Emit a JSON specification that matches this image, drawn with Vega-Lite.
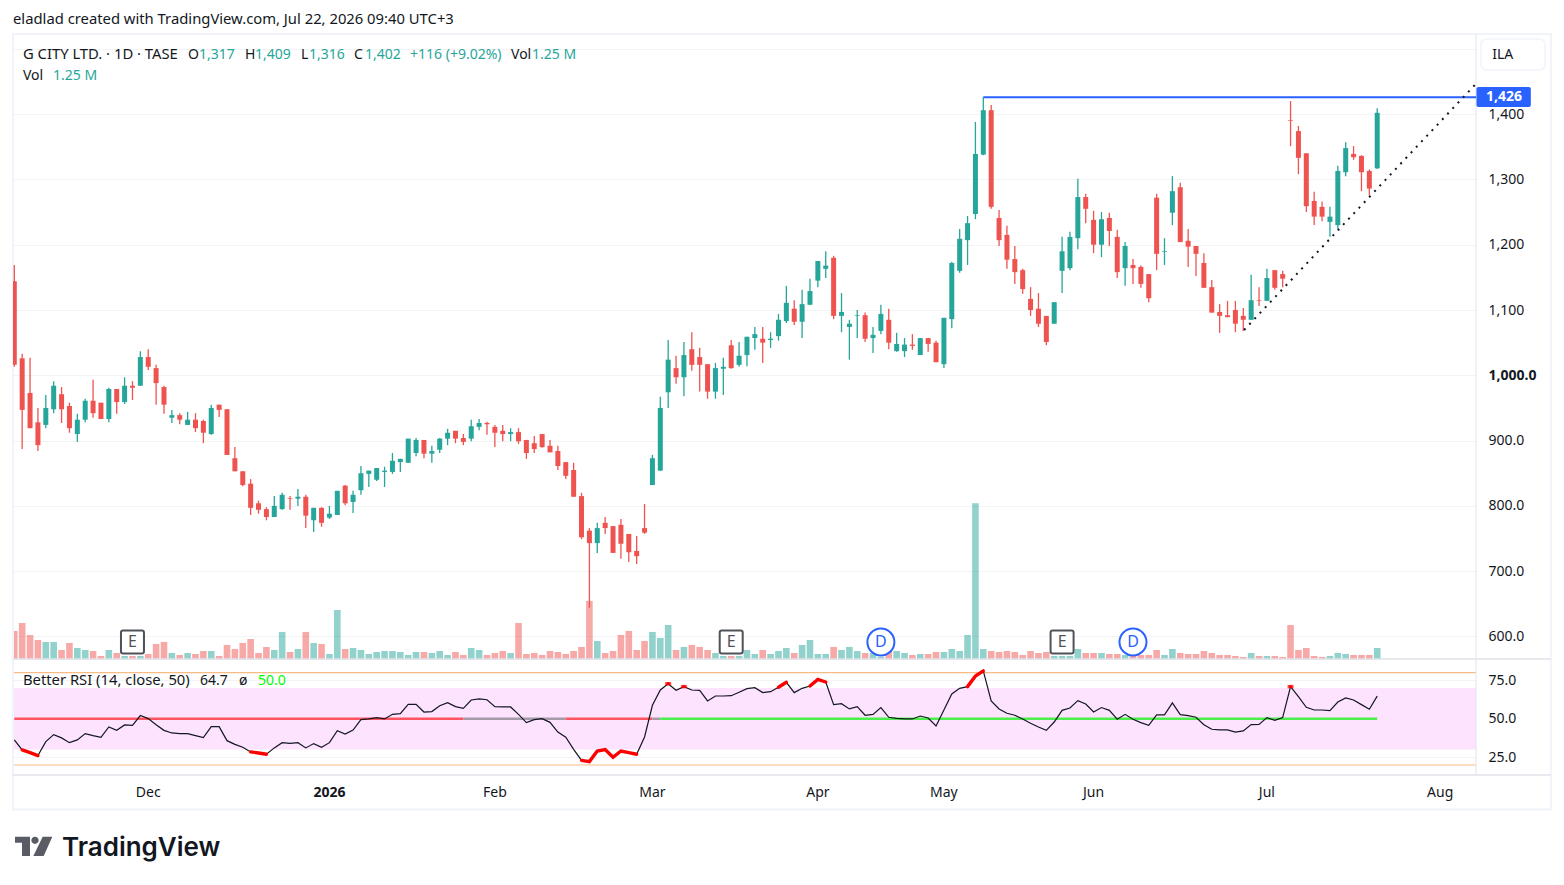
{
"$schema":"https://vega.github.io/schema/vega-lite/v6.json",
"width":1463,"height":741,
"autosize":{"type":"none"},
"padding":{"left":13,"top":34,"right":88,"bottom":110},
"background":"white",
"config":{"view":{"stroke":null},"font":"Noto Sans"},
"data":{"name":"bars"},
"datasets":{
"one":[{"row":1}],
"bars":[
{"bar":0,"open":1144,"high":1169,"low":1013,"close":1016,"vol":3.14,"rsi":36.3},
{"bar":1,"open":1026,"high":1033,"low":887,"close":947,"vol":4.02,"rsi":29.8,"hot":"a"},
{"bar":2,"open":973,"high":1027,"low":919,"close":919,"vol":2.69,"rsi":28.0,"hot":"a"},
{"bar":3,"open":928,"high":950,"low":884,"close":893,"vol":2.14,"rsi":26.1,"hot":"a"},
{"bar":4,"open":924,"high":970,"low":919,"close":950,"vol":1.92,"rsi":35.2},
{"bar":5,"open":948,"high":991,"low":942,"close":984,"vol":1.92,"rsi":39.7},
{"bar":6,"open":971,"high":982,"low":927,"close":948,"vol":1.03,"rsi":37.6},
{"bar":7,"open":953,"high":958,"low":912,"close":919,"vol":1.81,"rsi":34.5},
{"bar":8,"open":910,"high":941,"low":898,"close":932,"vol":1.25,"rsi":36.3},
{"bar":9,"open":932,"high":964,"low":928,"close":961,"vol":1.03,"rsi":40.4},
{"bar":10,"open":961,"high":993,"low":935,"close":942,"vol":0.92,"rsi":39.1},
{"bar":11,"open":958,"high":958,"low":933,"close":933,"vol":0.37,"rsi":38.0},
{"bar":12,"open":933,"high":981,"low":928,"close":979,"vol":1.03,"rsi":44.7},
{"bar":13,"open":979,"high":979,"low":941,"close":959,"vol":0.70,"rsi":42.5},
{"bar":14,"open":959,"high":997,"low":956,"close":984,"vol":0.37,"rsi":46.0},
{"bar":15,"open":984,"high":991,"low":962,"close":981,"vol":0.37,"rsi":45.8},
{"bar":16,"open":984,"high":1037,"low":984,"close":1028,"vol":0.37,"rsi":52.1},
{"bar":17,"open":1028,"high":1040,"low":1008,"close":1013,"vol":0.59,"rsi":50.1},
{"bar":18,"open":1011,"high":1016,"low":955,"close":988,"vol":1.70,"rsi":46.2},
{"bar":19,"open":982,"high":984,"low":941,"close":955,"vol":1.92,"rsi":42.5},
{"bar":20,"open":935,"high":947,"low":927,"close":939,"vol":0.70,"rsi":40.8},
{"bar":21,"open":939,"high":942,"low":925,"close":932,"vol":0.48,"rsi":40.4},
{"bar":22,"open":924,"high":944,"low":924,"close":932,"vol":0.70,"rsi":40.4},
{"bar":23,"open":932,"high":942,"low":913,"close":919,"vol":0.59,"rsi":39.1},
{"bar":24,"open":930,"high":932,"low":896,"close":912,"vol":0.92,"rsi":37.8},
{"bar":25,"open":910,"high":955,"low":909,"close":950,"vol":0.92,"rsi":44.9},
{"bar":26,"open":955,"high":955,"low":936,"close":947,"vol":0.37,"rsi":44.9},
{"bar":27,"open":948,"high":948,"low":878,"close":878,"vol":1.59,"rsi":35.8},
{"bar":28,"open":873,"high":890,"low":853,"close":853,"vol":1.14,"rsi":33.4},
{"bar":29,"open":853,"high":853,"low":830,"close":832,"vol":1.81,"rsi":31.5},
{"bar":30,"open":834,"high":841,"low":786,"close":797,"vol":2.25,"rsi":28.5,"hot":"b"},
{"bar":31,"open":804,"high":808,"low":788,"close":794,"vol":0.70,"rsi":27.8,"hot":"b"},
{"bar":32,"open":795,"high":798,"low":778,"close":783,"vol":1.37,"rsi":27.0,"hot":"b"},
{"bar":33,"open":783,"high":815,"low":783,"close":800,"vol":1.03,"rsi":31.1},
{"bar":34,"open":795,"high":820,"low":794,"close":817,"vol":3.03,"rsi":34.5},
{"bar":35,"open":812,"high":815,"low":794,"close":811,"vol":0.81,"rsi":34.1},
{"bar":36,"open":811,"high":826,"low":800,"close":814,"vol":1.14,"rsi":34.5},
{"bar":37,"open":814,"high":817,"low":766,"close":785,"vol":3.03,"rsi":31.1},
{"bar":38,"open":778,"high":797,"low":760,"close":797,"vol":1.81,"rsi":33.9},
{"bar":39,"open":797,"high":798,"low":768,"close":774,"vol":1.70,"rsi":31.5},
{"bar":40,"open":782,"high":800,"low":780,"close":788,"vol":0.59,"rsi":34.5},
{"bar":41,"open":786,"high":823,"low":786,"close":823,"vol":5.46,"rsi":42.3},
{"bar":42,"open":831,"high":832,"low":801,"close":804,"vol":1.14,"rsi":40.1},
{"bar":43,"open":806,"high":823,"low":789,"close":817,"vol":1.25,"rsi":42.7},
{"bar":44,"open":824,"high":861,"low":817,"close":850,"vol":1.03,"rsi":49.5},
{"bar":45,"open":849,"high":854,"low":829,"close":854,"vol":0.59,"rsi":49.9},
{"bar":46,"open":840,"high":858,"low":838,"close":858,"vol":0.81,"rsi":50.8},
{"bar":47,"open":852,"high":860,"low":829,"close":854,"vol":0.92,"rsi":49.9},
{"bar":48,"open":852,"high":881,"low":849,"close":869,"vol":0.92,"rsi":52.9},
{"bar":49,"open":867,"high":872,"low":852,"close":872,"vol":0.81,"rsi":53.4},
{"bar":50,"open":866,"high":903,"low":866,"close":903,"vol":0.48,"rsi":59.4},
{"bar":51,"open":881,"high":904,"low":876,"close":901,"vol":0.81,"rsi":59.4},
{"bar":52,"open":901,"high":901,"low":873,"close":880,"vol":0.81,"rsi":54.4},
{"bar":53,"open":880,"high":892,"low":866,"close":884,"vol":0.70,"rsi":54.7},
{"bar":54,"open":886,"high":904,"low":881,"close":903,"vol":0.92,"rsi":58.5},
{"bar":55,"open":903,"high":918,"low":893,"close":912,"vol":0.48,"rsi":60.5},
{"bar":56,"open":915,"high":915,"low":896,"close":903,"vol":0.81,"rsi":57.9},
{"bar":57,"open":904,"high":910,"low":893,"close":898,"vol":0.48,"rsi":56.8},
{"bar":58,"open":903,"high":932,"low":899,"close":922,"vol":1.25,"rsi":62.2},
{"bar":59,"open":921,"high":933,"low":916,"close":927,"vol":1.03,"rsi":62.9},
{"bar":60,"open":927,"high":929,"low":909,"close":925,"vol":0.48,"rsi":62.4},
{"bar":61,"open":921,"high":924,"low":890,"close":912,"vol":0.70,"rsi":57.9},
{"bar":62,"open":915,"high":924,"low":899,"close":910,"vol":0.92,"rsi":57.7},
{"bar":63,"open":910,"high":919,"low":899,"close":913,"vol":0.70,"rsi":57.7},
{"bar":64,"open":913,"high":919,"low":895,"close":899,"vol":4.02,"rsi":52.9},
{"bar":65,"open":901,"high":901,"low":872,"close":881,"vol":0.59,"rsi":47.5},
{"bar":66,"open":896,"high":907,"low":881,"close":887,"vol":0.70,"rsi":49.5},
{"bar":67,"open":910,"high":910,"low":889,"close":890,"vol":0.48,"rsi":50.1},
{"bar":68,"open":892,"high":901,"low":882,"close":882,"vol":0.92,"rsi":47.7},
{"bar":69,"open":884,"high":892,"low":855,"close":861,"vol":0.81,"rsi":41.4},
{"bar":70,"open":867,"high":867,"low":841,"close":846,"vol":0.59,"rsi":38.0},
{"bar":71,"open":855,"high":866,"low":814,"close":814,"vol":0.92,"rsi":30.2},
{"bar":72,"open":815,"high":820,"low":749,"close":752,"vol":1.37,"rsi":23.0,"hot":"c"},
{"bar":73,"open":762,"high":766,"low":644,"close":743,"vol":6.46,"rsi":22.2,"hot":"c"},
{"bar":74,"open":743,"high":774,"low":728,"close":766,"vol":2.03,"rsi":29.1,"hot":"c"},
{"bar":75,"open":774,"high":783,"low":757,"close":766,"vol":0.70,"rsi":30.0,"hot":"c"},
{"bar":76,"open":769,"high":769,"low":728,"close":728,"vol":0.92,"rsi":25.0,"hot":"c"},
{"bar":77,"open":771,"high":780,"low":719,"close":742,"vol":2.69,"rsi":29.1,"hot":"c"},
{"bar":78,"open":757,"high":757,"low":714,"close":729,"vol":3.14,"rsi":28.0,"hot":"c"},
{"bar":79,"open":731,"high":754,"low":711,"close":723,"vol":1.03,"rsi":27.0,"hot":"c"},
{"bar":80,"open":766,"high":803,"low":757,"close":759,"vol":2.03,"rsi":38.2},
{"bar":81,"open":832,"high":878,"low":832,"close":873,"vol":3.03,"rsi":58.8},
{"bar":82,"open":854,"high":967,"low":854,"close":950,"vol":2.36,"rsi":68.7},
{"bar":83,"open":974,"high":1054,"low":950,"close":1024,"vol":3.80,"rsi":72.8,"hot":"d"},
{"bar":84,"open":1011,"high":1030,"low":987,"close":997,"vol":1.03,"rsi":68.5},
{"bar":85,"open":997,"high":1051,"low":968,"close":1031,"vol":1.37,"rsi":70.9,"hot":"e"},
{"bar":86,"open":1040,"high":1066,"low":1007,"close":1016,"vol":1.59,"rsi":68.7},
{"bar":87,"open":1028,"high":1042,"low":975,"close":1016,"vol":1.37,"rsi":68.5},
{"bar":88,"open":1017,"high":1017,"low":964,"close":975,"vol":1.03,"rsi":61.6},
{"bar":89,"open":975,"high":1019,"low":964,"close":1011,"vol":0.70,"rsi":64.8},
{"bar":90,"open":1010,"high":1027,"low":970,"close":1013,"vol":0.37,"rsi":64.8},
{"bar":91,"open":1046,"high":1054,"low":1010,"close":1011,"vol":0.37,"rsi":65.0},
{"bar":92,"open":1016,"high":1051,"low":1013,"close":1030,"vol":0.37,"rsi":67.2},
{"bar":93,"open":1031,"high":1059,"low":1014,"close":1059,"vol":1.03,"rsi":69.6},
{"bar":94,"open":1057,"high":1074,"low":1039,"close":1063,"vol":0.59,"rsi":70.2},
{"bar":95,"open":1056,"high":1074,"low":1019,"close":1050,"vol":1.03,"rsi":67.0},
{"bar":96,"open":1054,"high":1066,"low":1042,"close":1056,"vol":0.59,"rsi":67.6},
{"bar":97,"open":1060,"high":1094,"low":1053,"close":1085,"vol":0.92,"rsi":70.5,"hot":"f"},
{"bar":98,"open":1083,"high":1137,"low":1080,"close":1111,"vol":1.25,"rsi":73.7,"hot":"f"},
{"bar":99,"open":1102,"high":1115,"low":1077,"close":1082,"vol":0.70,"rsi":67.0},
{"bar":100,"open":1082,"high":1131,"low":1057,"close":1109,"vol":1.59,"rsi":69.8},
{"bar":101,"open":1108,"high":1148,"low":1108,"close":1129,"vol":2.14,"rsi":71.3,"hot":"g"},
{"bar":102,"open":1145,"high":1175,"low":1135,"close":1175,"vol":0.59,"rsi":75.6,"hot":"g"},
{"bar":103,"open":1163,"high":1190,"low":1149,"close":1168,"vol":0.59,"rsi":73.9,"hot":"g"},
{"bar":104,"open":1180,"high":1183,"low":1086,"close":1091,"vol":1.37,"rsi":59.2},
{"bar":105,"open":1091,"high":1126,"low":1066,"close":1097,"vol":1.03,"rsi":59.8},
{"bar":106,"open":1074,"high":1085,"low":1024,"close":1079,"vol":1.37,"rsi":56.4},
{"bar":107,"open":1091,"high":1100,"low":1057,"close":1092,"vol":0.92,"rsi":57.9},
{"bar":108,"open":1092,"high":1096,"low":1051,"close":1056,"vol":0.70,"rsi":52.3},
{"bar":109,"open":1057,"high":1074,"low":1034,"close":1062,"vol":0.70,"rsi":52.9},
{"bar":110,"open":1068,"high":1108,"low":1063,"close":1094,"vol":0.26,"rsi":57.3},
{"bar":111,"open":1085,"high":1102,"low":1040,"close":1050,"vol":0.92,"rsi":51.0},
{"bar":112,"open":1037,"high":1065,"low":1036,"close":1048,"vol":0.92,"rsi":50.3},
{"bar":113,"open":1037,"high":1057,"low":1028,"close":1047,"vol":0.70,"rsi":49.9},
{"bar":114,"open":1047,"high":1063,"low":1039,"close":1045,"vol":0.48,"rsi":49.9},
{"bar":115,"open":1031,"high":1057,"low":1031,"close":1057,"vol":0.59,"rsi":51.8},
{"bar":116,"open":1057,"high":1057,"low":1036,"close":1048,"vol":0.59,"rsi":50.5},
{"bar":117,"open":1050,"high":1053,"low":1020,"close":1020,"vol":0.81,"rsi":45.3},
{"bar":118,"open":1017,"high":1088,"low":1011,"close":1088,"vol":0.81,"rsi":55.7},
{"bar":119,"open":1086,"high":1174,"low":1072,"close":1172,"vol":1.14,"rsi":66.1},
{"bar":120,"open":1160,"high":1224,"low":1157,"close":1209,"vol":0.92,"rsi":69.8},
{"bar":121,"open":1207,"high":1244,"low":1169,"close":1233,"vol":2.69,"rsi":70.9,"hot":"h"},
{"bar":122,"open":1247,"high":1388,"low":1239,"close":1339,"vol":17.27,"rsi":77.8,"hot":"h"},
{"bar":123,"open":1338,"high":1426,"low":1337,"close":1406,"vol":1.14,"rsi":81.1,"hot":"h"},
{"bar":124,"open":1406,"high":1414,"low":1255,"close":1258,"vol":0.92,"rsi":61.6},
{"bar":125,"open":1241,"high":1253,"low":1198,"close":1207,"vol":0.81,"rsi":56.4},
{"bar":126,"open":1215,"high":1229,"low":1163,"close":1177,"vol":0.92,"rsi":53.6},
{"bar":127,"open":1178,"high":1198,"low":1140,"close":1158,"vol":0.81,"rsi":52.3},
{"bar":128,"open":1161,"high":1163,"low":1125,"close":1132,"vol":0.48,"rsi":49.9},
{"bar":129,"open":1117,"high":1135,"low":1091,"close":1100,"vol":0.92,"rsi":47.1},
{"bar":130,"open":1102,"high":1126,"low":1074,"close":1079,"vol":0.70,"rsi":44.7},
{"bar":131,"open":1091,"high":1091,"low":1046,"close":1051,"vol":0.81,"rsi":42.5},
{"bar":132,"open":1079,"high":1112,"low":1079,"close":1112,"vol":0.37,"rsi":47.9},
{"bar":133,"open":1160,"high":1212,"low":1126,"close":1190,"vol":0.37,"rsi":55.5},
{"bar":134,"open":1164,"high":1220,"low":1161,"close":1212,"vol":0.37,"rsi":57.0},
{"bar":135,"open":1210,"high":1301,"low":1193,"close":1273,"vol":1.14,"rsi":61.8},
{"bar":136,"open":1273,"high":1278,"low":1233,"close":1255,"vol":0.70,"rsi":59.6},
{"bar":137,"open":1238,"high":1252,"low":1187,"close":1200,"vol":0.70,"rsi":54.4},
{"bar":138,"open":1200,"high":1250,"low":1181,"close":1239,"vol":0.70,"rsi":57.3},
{"bar":139,"open":1241,"high":1249,"low":1198,"close":1221,"vol":0.59,"rsi":55.5},
{"bar":140,"open":1212,"high":1223,"low":1149,"close":1158,"vol":0.59,"rsi":49.7},
{"bar":141,"open":1164,"high":1204,"low":1137,"close":1198,"vol":0.48,"rsi":52.9},
{"bar":142,"open":1169,"high":1178,"low":1140,"close":1164,"vol":0.37,"rsi":49.7},
{"bar":143,"open":1166,"high":1168,"low":1134,"close":1140,"vol":0.48,"rsi":47.5},
{"bar":144,"open":1155,"high":1155,"low":1112,"close":1118,"vol":0.48,"rsi":45.8},
{"bar":145,"open":1272,"high":1278,"low":1161,"close":1186,"vol":1.03,"rsi":52.5},
{"bar":146,"open":1189,"high":1210,"low":1169,"close":1190,"vol":0.48,"rsi":52.5},
{"bar":147,"open":1249,"high":1305,"low":1230,"close":1282,"vol":1.14,"rsi":60.3},
{"bar":148,"open":1288,"high":1295,"low":1204,"close":1204,"vol":0.70,"rsi":52.7},
{"bar":149,"open":1206,"high":1224,"low":1166,"close":1197,"vol":0.59,"rsi":52.1},
{"bar":150,"open":1198,"high":1198,"low":1152,"close":1186,"vol":0.59,"rsi":51.0},
{"bar":151,"open":1172,"high":1187,"low":1134,"close":1134,"vol":0.92,"rsi":46.2},
{"bar":152,"open":1135,"high":1146,"low":1096,"close":1096,"vol":0.70,"rsi":43.2},
{"bar":153,"open":1097,"high":1109,"low":1065,"close":1091,"vol":0.48,"rsi":42.8},
{"bar":154,"open":1092,"high":1114,"low":1089,"close":1089,"vol":0.48,"rsi":42.8},
{"bar":155,"open":1100,"high":1114,"low":1066,"close":1079,"vol":0.37,"rsi":41.4},
{"bar":156,"open":1091,"high":1103,"low":1068,"close":1085,"vol":0.26,"rsi":42.1},
{"bar":157,"open":1085,"high":1154,"low":1085,"close":1115,"vol":0.70,"rsi":46.2},
{"bar":158,"open":1115,"high":1135,"low":1106,"close":1114,"vol":0.37,"rsi":46.4},
{"bar":159,"open":1114,"high":1163,"low":1114,"close":1149,"vol":0.37,"rsi":50.8},
{"bar":160,"open":1161,"high":1161,"low":1131,"close":1134,"vol":0.37,"rsi":49.0},
{"bar":161,"open":1155,"high":1160,"low":1135,"close":1148,"vol":0.26,"rsi":50.8},
{"bar":162,"open":1391,"high":1420,"low":1351,"close":1390,"vol":3.80,"rsi":70.9,"hot":"i"},
{"bar":163,"open":1374,"high":1382,"low":1308,"close":1333,"vol":1.03,"rsi":64.4},
{"bar":164,"open":1340,"high":1340,"low":1250,"close":1259,"vol":1.25,"rsi":57.5},
{"bar":165,"open":1267,"high":1281,"low":1230,"close":1243,"vol":0.37,"rsi":55.7},
{"bar":166,"open":1258,"high":1266,"low":1236,"close":1243,"vol":0.26,"rsi":55.7},
{"bar":167,"open":1235,"high":1258,"low":1212,"close":1243,"vol":0.37,"rsi":55.3},
{"bar":168,"open":1230,"high":1321,"low":1224,"close":1313,"vol":0.70,"rsi":60.9},
{"bar":169,"open":1311,"high":1357,"low":1305,"close":1348,"vol":0.59,"rsi":63.5},
{"bar":170,"open":1339,"high":1351,"low":1330,"close":1334,"vol":0.48,"rsi":62.2},
{"bar":171,"open":1336,"high":1337,"low":1282,"close":1311,"vol":0.48,"rsi":59.2},
{"bar":172,"open":1313,"high":1315,"low":1276,"close":1286,"vol":0.48,"rsi":56.2},
{"bar":173,"open":1317,"high":1409,"low":1316,"close":1402,"vol":1.25,"rsi":64.7}
],
"rsiAvg":[
{"bar":0,"bar2":57,"state":"below"},
{"bar":57,"bar2":70,"state":"flat"},
{"bar":70,"bar2":81,"state":"below"},
{"bar":81,"bar2":82,"state":"flat"},
{"bar":82,"bar2":173,"state":"above"}
],
"events":[
{"bar":15,"price":591.5,"kind":"E"},
{"bar":91,"price":591.5,"kind":"E"},
{"bar":133,"price":591.5,"kind":"E"},
{"bar":110,"price":591.5,"kind":"D"},
{"bar":142,"price":591.5,"kind":"D"}
],
"months":[
{"bar":17,"price":360.3,"month":"Dec"},
{"bar":61,"price":360.3,"month":"Feb"},
{"bar":81,"price":360.3,"month":"Mar"},
{"bar":102,"price":360.3,"month":"Apr"},
{"bar":118,"price":360.3,"month":"May"},
{"bar":137,"price":360.3,"month":"Jun"},
{"bar":159,"price":360.3,"month":"Jul"},
{"bar":181,"price":360.3,"month":"Aug"}
],
"longLabels":[
{"text":"eladlad created with TradingView.com, Jul 22, 2026 09:40 UTC+3","bar":-0.165,"price":1544.2},
{"text":"G CITY LTD. · 1D · TASE","bar":1.1,"price":1490.6},
{"text":"Better RSI (14, close, 50)","bar":1.1,"price":531.8}
],
"labels":[
{"text":"O","bar":22.05,"price":1490.6,"tone":"dark"},
{"text":"1,317","bar":23.44,"price":1490.6,"tone":"teal"},
{"text":"H","bar":29.28,"price":1490.6,"tone":"dark"},
{"text":"1,409","bar":30.55,"price":1490.6,"tone":"teal"},
{"text":"L","bar":36.39,"price":1490.6,"tone":"dark"},
{"text":"1,316","bar":37.41,"price":1490.6,"tone":"teal"},
{"text":"C","bar":43.12,"price":1490.6,"tone":"dark"},
{"text":"1,402","bar":44.52,"price":1490.6,"tone":"teal"},
{"text":"+116 (+9.02%)","bar":50.23,"price":1490.6,"tone":"teal"},
{"text":"Vol","bar":63.05,"price":1490.6,"tone":"dark"},
{"text":"1.25 M","bar":65.72,"price":1490.6,"tone":"teal"},
{"text":"Vol","bar":1.1,"price":1458.4,"tone":"dark"},
{"text":"1.25 M","bar":4.91,"price":1458.4,"tone":"teal"},
{"text":"64.7","bar":23.57,"price":531.8,"tone":"dark"},
{"text":"ø","bar":28.52,"price":531.8,"tone":"dark"},
{"text":"50.0","bar":30.93,"price":531.8,"tone":"lime"},
{"text":"ILA","bar":187.6,"price":1490,"tone":"dark"}
]
},
"layer":[
{"data":{"name":"one"},"mark":{"type":"rect","fill":"#fde3fe"},
"encoding":{"x":{"datum":-0.165,"axis":null,"scale":{"domain":[-0.165,185.54],"nice":false,"zero":false,"padding":0}},"x2":{"datum":185.54},
"y":{"datum":30,"title":null,"scale":{"domain":[25,75],"range":[723.3,646.3],"nice":false,"zero":false},
"axis":{"orient":"right","values":[25,50,75],"format":".1f","ticks":false,"domain":false,"labelPadding":12,"labelFontSize":14,"labelColor":"#131722","labelOverlap":false,"labelFlush":false,"gridColor":"#f2f3f5","grid":true}},
"y2":{"datum":70}}},
{"data":{"name":"one"},"mark":{"type":"rule","color":"#f7bc86","strokeWidth":1.2},
"encoding":{"x":{"datum":-0.165,"axis":null},"x2":{"datum":185.54},"y":{"datum":80,"axis":null,"scale":{"domain":[25,75],"range":[723.3,646.3],"nice":false,"zero":false}}}},
{"data":{"name":"one"},"mark":{"type":"rule","color":"#f7bc86","strokeWidth":1.2},
"encoding":{"x":{"datum":-0.165,"axis":null},"x2":{"datum":185.54},"y":{"datum":20,"axis":null,"scale":{"domain":[25,75],"range":[723.3,646.3],"nice":false,"zero":false}}}},
{"data":{"name":"rsiAvg"},"mark":{"type":"rule","strokeWidth":2.4},
"encoding":{"x":{"field":"bar","type":"quantitative","axis":null},"x2":{"field":"bar2"},"y":{"datum":50,"axis":null,"scale":{"domain":[25,75],"range":[723.3,646.3],"nice":false,"zero":false}},
"color":{"field":"state","type":"nominal","legend":null,"scale":{"domain":["below","flat","above"],"range":["#ff5560","#a79aa8","#4cee4c"]}}}},
{"mark":{"type":"line","color":"#131722","strokeWidth":1.2},
"encoding":{"x":{"field":"bar","type":"quantitative","axis":null},"y":{"field":"rsi","type":"quantitative","axis":null,"scale":{"domain":[25,75],"range":[723.3,646.3],"nice":false,"zero":false}}}},
{"transform":[{"filter":"datum.hot"}],"mark":{"type":"line","color":"#ff0000","strokeWidth":3.4,"strokeCap":"round"},
"encoding":{"x":{"field":"bar","type":"quantitative","axis":null},"y":{"field":"rsi","type":"quantitative","axis":null,"scale":{"domain":[25,75],"range":[723.3,646.3],"nice":false,"zero":false}},"detail":{"field":"hot"}}},
{"transform":[{"filter":"indexof(['d','e','i'], datum.hot) >= 0"}],"mark":{"type":"tick","color":"#ff0000","orient":"horizontal","size":6,"thickness":3.4},
"encoding":{"x":{"field":"bar","type":"quantitative","axis":null},"y":{"field":"rsi","type":"quantitative","axis":null,"scale":{"domain":[25,75],"range":[723.3,646.3],"nice":false,"zero":false}}}},
{"mark":{"type":"bar","width":6.6,"clip":true,"opacity":0.5},
"encoding":{"x":{"field":"bar","type":"quantitative","axis":null,"scale":{"domain":[-0.165,185.54],"nice":false,"zero":false,"padding":0}},"y":{"field":"vol","type":"quantitative","stack":null,"axis":null,"scale":{"domain":[0,17.27],"range":[625.3,469.3],"nice":false}},
"color":{"condition":{"test":"datum.close >= datum.open","value":"#26a69a"},"value":"#ef5350"}}},
{"data":{"name":"one"},"mark":{"type":"rect","filled":false,"stroke":"#f0f3fa","strokeWidth":2},
"encoding":{"x":{"datum":-0.165,"axis":null},"x2":{"datum":195.05},
"y":{"datum":335,"title":null,"scale":{"domain":[565.5,1522.7],"range":[625,0],"nice":false,"zero":false},
"axis":{"orient":"right","values":[600,700,800,900,1000,1100,1200,1300,1400,1500],
"labelExpr":"datum.value == 1500 ? '' : (datum.value > 1000 ? format(datum.value, ',') : format(datum.value, ',.1f'))",
"ticks":false,"domain":false,"labelPadding":12,"labelFontSize":14,"labelColor":"#131722","labelOverlap":false,"labelFlush":false,"gridColor":"#f2f3f5","grid":true,
"labelFontWeight":{"condition":{"test":"datum.value == 1000","value":"bold"},"value":"normal"}}},
"y2":{"datum":1522.7}}},
{"data":{"name":"one"},"mark":{"type":"rule","color":"#e0e3eb","strokeWidth":1},
"encoding":{"x":{"datum":185.54,"axis":null},"y":{"datum":1522.7,"axis":null,"scale":{"domain":[565.5,1522.7],"range":[625,0],"nice":false,"zero":false}},"y2":{"datum":387.8}}},
{"data":{"name":"one"},"mark":{"type":"rule","color":"#e0e3eb","strokeWidth":1.5},
"encoding":{"x":{"datum":-0.165,"axis":null},"x2":{"datum":195.05},"y":{"datum":565.5,"axis":null,"scale":{"domain":[565.5,1522.7],"range":[625,0],"nice":false,"zero":false}}}},
{"data":{"name":"one"},"mark":{"type":"rule","color":"#e0e3eb","strokeWidth":1.5},
"encoding":{"x":{"datum":-0.165,"axis":null},"x2":{"datum":195.05},"y":{"datum":387.8,"axis":null,"scale":{"domain":[565.5,1522.7],"range":[625,0],"nice":false,"zero":false}}}},
{"mark":{"type":"rule","strokeWidth":1.3,"clip":true},
"encoding":{"x":{"field":"bar","type":"quantitative","axis":null},"y":{"field":"low","type":"quantitative","axis":null,"scale":{"domain":[565.5,1522.7],"range":[625,0],"nice":false,"zero":false}},"y2":{"field":"high"},
"color":{"condition":{"test":"datum.close >= datum.open","value":"#26a69a"},"value":"#ef5350"}}},
{"mark":{"type":"bar","width":5,"clip":true},
"encoding":{"x":{"field":"bar","type":"quantitative","axis":null,"scale":{"domain":[-0.165,185.54],"nice":false,"zero":false,"padding":0}},"y":{"field":"open","type":"quantitative","axis":null,"scale":{"domain":[565.5,1522.7],"range":[625,0],"nice":false,"zero":false}},"y2":{"field":"close"},
"color":{"condition":{"test":"datum.close >= datum.open","value":"#26a69a"},"value":"#ef5350"}}},
{"data":{"name":"one"},"mark":{"type":"rule","color":"#2962ff","strokeWidth":2},
"encoding":{"x":{"datum":123,"axis":null},"x2":{"datum":185.54},"y":{"datum":1426,"axis":null,"scale":{"domain":[565.5,1522.7],"range":[625,0],"nice":false,"zero":false}}}},
{"data":{"name":"one"},"mark":{"type":"rule","color":"#131722","strokeWidth":2,"strokeDash":[2,5.6]},
"encoding":{"x":{"datum":156.1,"axis":null},"x2":{"datum":185.5},"y":{"datum":1069.4,"axis":null,"scale":{"domain":[565.5,1522.7],"range":[625,0],"nice":false,"zero":false}},"y2":{"datum":1446}}},
{"data":{"name":"one"},"mark":{"type":"rect","fill":"#2962ff","cornerRadius":2},
"encoding":{"x":{"datum":185.6,"axis":null},"x2":{"datum":192.5},"y":{"datum":1410.9,"axis":null,"scale":{"domain":[565.5,1522.7],"range":[625,0],"nice":false,"zero":false}},"y2":{"datum":1441.6}}},
{"data":{"name":"one"},"mark":{"type":"text","text":"1,426","color":"white","fontSize":14,"fontWeight":"bold","align":"center","baseline":"middle"},
"encoding":{"x":{"datum":189.1,"axis":null},"y":{"datum":1426,"axis":null,"scale":{"domain":[565.5,1522.7],"range":[625,0],"nice":false,"zero":false}}}},
{"data":{"name":"one"},"mark":{"type":"point","filled":false,"stroke":"#f0f3fa","strokeWidth":2,"size":4096,"shape":"M -0.81 -0.484 H 0.81 Q 1 -0.484 1 -0.294 V 0.294 Q 1 0.484 0.81 0.484 H -0.81 Q -1 0.484 -1 0.294 V -0.294 Q -1 -0.484 -0.81 -0.484 Z"},
"encoding":{"x":{"datum":190.24,"axis":null},"y":{"datum":1491.3,"axis":null,"scale":{"domain":[565.5,1522.7],"range":[625,0],"nice":false,"zero":false}}}},
{"data":{"name":"events"},"mark":{"type":"point","filled":true,"fill":"white","strokeWidth":2,"opacity":1},
"encoding":{"x":{"field":"bar","type":"quantitative","axis":null},"y":{"field":"price","type":"quantitative","axis":null,"scale":{"domain":[565.5,1522.7],"range":[625,0],"nice":false,"zero":false}},
"size":{"field":"kind","type":"nominal","legend":null,"scale":{"domain":["E","D"],"range":[529,729]}},
"shape":{"field":"kind","type":"nominal","legend":null,"scale":{"domain":["E","D"],"range":["M -0.82 -1 H 0.82 Q 1 -1 1 -0.82 V 0.82 Q 1 1 0.82 1 H -0.82 Q -1 1 -1 0.82 V -0.82 Q -1 -1 -0.82 -1 Z","circle"]}},
"stroke":{"field":"kind","type":"nominal","legend":null,"scale":{"domain":["E","D"],"range":["#4f5258","#2962ff"]}}}},
{"data":{"name":"events"},"mark":{"type":"text","fontSize":16,"align":"center","baseline":"middle"},
"encoding":{"x":{"field":"bar","type":"quantitative","axis":null},"y":{"field":"price","type":"quantitative","axis":null,"scale":{"domain":[565.5,1522.7],"range":[625,0],"nice":false,"zero":false}},"text":{"field":"kind"},
"color":{"field":"kind","type":"nominal","legend":null,"scale":{"domain":["E","D"],"range":["#4f5258","#2962ff"]}}}},
{"data":{"name":"labels"},"mark":{"type":"text","fontSize":14,"align":"left","baseline":"middle"},
"encoding":{"x":{"field":"bar","type":"quantitative","axis":null},"y":{"field":"price","type":"quantitative","axis":null,"scale":{"domain":[565.5,1522.7],"range":[625,0],"nice":false,"zero":false}},"text":{"field":"text"},
"color":{"field":"tone","type":"nominal","legend":null,"scale":{"domain":["dark","teal","lime"],"range":["#131722","#26a69a","#00ff00"]}}}},
{"data":{"name":"longLabels"},"mark":{"type":"text","fontSize":14.8,"align":"left","baseline":"middle","color":"#131722"},
"encoding":{"x":{"field":"bar","type":"quantitative","axis":null},"y":{"field":"price","type":"quantitative","axis":null,"scale":{"domain":[565.5,1522.7],"range":[625,0],"nice":false,"zero":false}},"text":{"field":"text"}}},
{"data":{"name":"months"},"mark":{"type":"text","fontSize":14,"align":"center","baseline":"middle","color":"#131722"},
"encoding":{"x":{"field":"bar","type":"quantitative","axis":null},"y":{"field":"price","type":"quantitative","axis":null,"scale":{"domain":[565.5,1522.7],"range":[625,0],"nice":false,"zero":false}},"text":{"field":"month"}}},
{"data":{"name":"one"},"mark":{"type":"text","text":"2026","fontSize":14,"fontWeight":"bold","align":"center","baseline":"middle","color":"#131722"},
"encoding":{"x":{"datum":40,"axis":null},"y":{"datum":360.3,"axis":null,"scale":{"domain":[565.5,1522.7],"range":[625,0],"nice":false,"zero":false}}}},
{"data":{"name":"one"},"mark":{"type":"point","filled":true,"fill":"#131722","stroke":null,"size":1393,"shape":"M -1 -0.518 H -0.196 V 0.518 H -0.625 V -0.196 H -1 Z M -0.125 -0.321 A 0.196 0.196 0 1 0 0.267 -0.321 A 0.196 0.196 0 1 0 -0.125 -0.321 Z M 0.482 -0.518 H 1 L 0.536 0.518 H -0.018 Z"},
"encoding":{"x":{"datum":2.46,"axis":null},"y":{"datum":278.6,"axis":null,"scale":{"domain":[565.5,1522.7],"range":[625,0],"nice":false,"zero":false}}}},
{"data":{"name":"one"},"mark":{"type":"text","text":"TradingView","font":"Inter","fontWeight":600,"fontSize":26,"color":"#131722","align":"left","baseline":"middle"},
"encoding":{"x":{"datum":6.05,"axis":null},"y":{"datum":276,"axis":null,"scale":{"domain":[565.5,1522.7],"range":[625,0],"nice":false,"zero":false}}}}
],
"resolve":{"scale":{"y":"independent","color":"independent"}}
}
